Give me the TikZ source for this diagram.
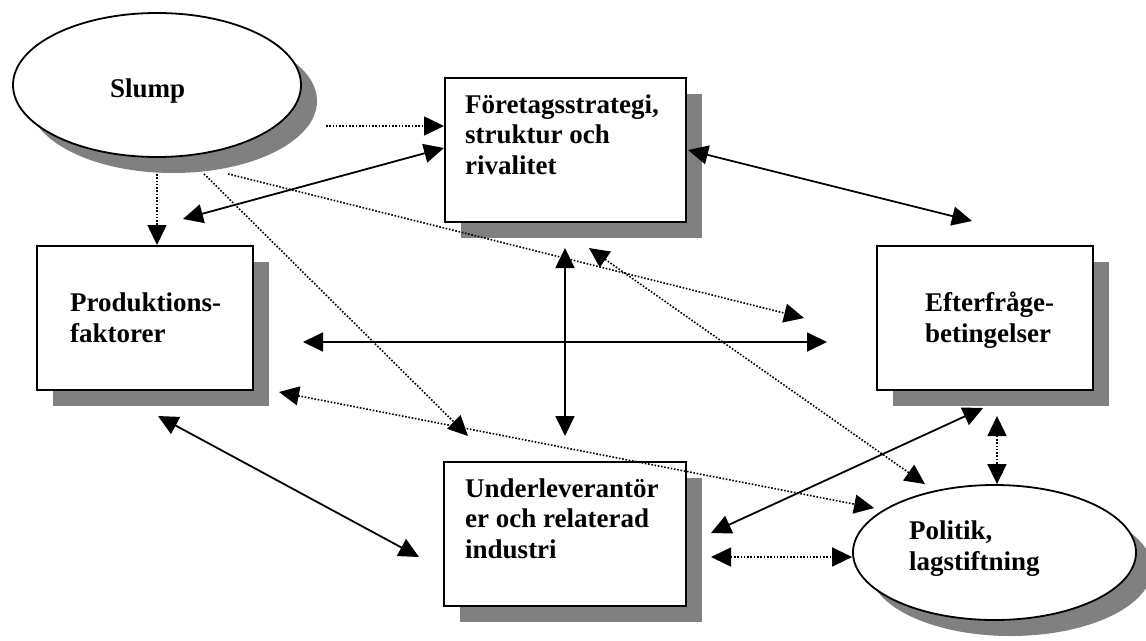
\documentclass[tikz,border=0pt]{standalone}
\usepackage{fontspec}
\setmainfont{Liberation Serif}
\usetikzlibrary{arrows.meta,shapes.geometric,shadows,calc}
\definecolor{shadowgray}{HTML}{808080}
\begin{document}
\begin{tikzpicture}[x=1pt,y=-1pt]
\tikzset{
  bigtri/.tip={Triangle[length=20pt,width=19pt]},
  shade16/.style={drop shadow={shadow xshift=16pt,shadow yshift=-16pt,fill=shadowgray,opacity=1}},
  box/.style={draw,line width=2pt,fill=white,rectangle,inner sep=0pt,shade16},
  oval/.style={draw,line width=1.8pt,fill=white,ellipse,inner sep=0pt,shade16},
  caption/.style={font=\fontsize{27}{30.5}\selectfont\bfseries,align=left,anchor=base west,inner sep=0pt},
  solidlink/.style={line width=1.8pt},
  dotlink/.style={line width=1.6pt,dash pattern=on 1.6pt off 1.7pt},
}
\useasboundingbox (0,0) rectangle (1146,640);

% shapes
\node[oval,minimum width=288pt,minimum height=144pt] (slump) at (157,85) {};
\node[box,minimum width=241pt,minimum height=144pt] (fs) at (565.5,150) {};
\node[box,minimum width=216pt,minimum height=144pt] (prod) at (145,318) {};
\node[box,minimum width=216pt,minimum height=144pt] (eft) at (985,318) {};
\node[box,minimum width=242pt,minimum height=144pt] (und) at (565,534) {};
\node[oval,minimum width=283pt,minimum height=135pt] (pol) at (994.5,552.5) {};

% texts (anchored at the baseline of the last line)
\node[caption] (slump-t) at (110,97) {Slump};
\node[caption] (fs-t) at (465,174) {Företagsstrategi,\\struktur och\\rivalitet};
\node[caption] (prod-t) at (70,342) {Produktions-\\faktorer};
\node[caption] (eft-t) at (925,342) {Efterfråge-\\betingelser};
\node[caption] (und-t) at (465,558) {Underleverantör\\er och relaterad\\industri};
\node[caption] (pol-t) at (909,570) {Politik,\\lagstiftning};

% dotted influences
\draw[dotlink,-bigtri] ($(slump.east)+(24,41)$) -- ($(fs.west)+(0,-24)$);
\draw[dotlink,-bigtri] ($(slump.south)+(0,16)$) -- ($(prod.north)+(12,0)$);
\draw[dotlink,-bigtri] ($(slump.south)+(71,16)$) -- ($(eft.west)+(-72,0)$);
\draw[dotlink,-bigtri] ($(slump.south)+(47,16)$) -- ($(und.north)+(-97,-25)$);
\draw[dotlink,bigtri-bigtri] ($(prod.east)+(25,74)$) -- ($(pol.west)+(22,-44.5)$);
\draw[dotlink,bigtri-bigtri] ($(fs.south)+(23.5,25)$) -- ($(pol.north)+(-69.5,0)$);
\draw[dotlink,bigtri-bigtri] ($(eft.south)+(12,25)$) -- ($(pol.north)+(2.5,0)$);
\draw[dotlink,bigtri-bigtri] ($(und.east)+(24,23)$) -- ($(pol.west)+(0,4.5)$);

% solid interactions
\draw[solidlink,bigtri-bigtri] ($(prod.north)+(38,-26)$) -- ($(fs.west)+(0,-2)$);
\draw[solidlink,bigtri-bigtri] ($(fs.east)+(1,0)$) -- ($(eft.north)+(-13,-24)$);
\draw[solidlink,bigtri-bigtri] ($(fs.south)+(-0.5,25)$) -- ($(und.north)+(0,-25)$);
\draw[solidlink,bigtri-bigtri] ($(prod.east)+(49,24)$) -- ($(eft.west)+(-49,24)$);
\draw[solidlink,bigtri-bigtri] ($(prod.south)+(13,25)$) -- ($(und.west)+(-24,23)$);
\draw[solidlink,bigtri-bigtri] ($(und.east)+(24,-1)$) -- ($(eft.south)+(-2,17)$);
\end{tikzpicture}
\end{document}
